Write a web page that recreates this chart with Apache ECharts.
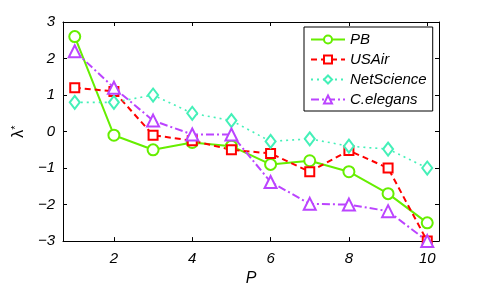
<!DOCTYPE html>
<html><head><meta charset="utf-8">
<script src="https://cdn.jsdelivr.net/npm/echarts@6/dist/echarts.min.js"></script>
<style>html,body{margin:0;padding:0;background:#fff}#c{width:485px;height:292px}</style>
</head><body><div id="c"></div>
<script>
var P = [1,2,3,4,5,6,7,8,9,10];
var PB = [2.6,-0.1,-0.5,-0.3,-0.4,-0.9,-0.8,-1.1,-1.7,-2.5];
var USAir = [1.2,1.1,-0.1,-0.25,-0.5,-0.6,-1.1,-0.52,-1.0,-3.0];
var NetScience = [0.8,0.8,1.0,0.5,0.3,-0.27,-0.2,-0.4,-0.48,-1.0];
var Celegans = [2.2,1.2,0.3,-0.08,-0.08,-1.38,-1.98,-2.0,-2.18,-3.0];
var xTicks = [2,4,6,8,10];
var yTicks = [-3,-2,-1,0,1,2,3];

function pairs(v){return P.map(function(x,i){return [x,v[i]];});}
var font = 'Liberation Sans';
var fmt = function(v){return String(v).replace('-', '\u2212');};
var chart = echarts.init(document.getElementById('c'), null, {renderer:'canvas'});
function mk(name, data, color, ltype, sym, size, lw){
  return {name:name, type:'line', data:pairs(data), symbol:sym, symbolSize:size,
    showAllSymbol:true, lineStyle:{color:color, width:lw, type:ltype},
    itemStyle:{color:'#fff', borderColor:color, borderWidth:2}, color:color,
    emphasis:{disabled:true}, animation:false, z:3};
}
var axisBase = {
  axisLine:{onZero:false, lineStyle:{color:'#000', width:1}},
  splitLine:{show:false}
};
chart.setOption({
  animation:false,
  grid:{left:63, right:46, top:22, bottom:39, containLabel:false},
  xAxis:[
    Object.assign({type:'value', min:0.7, max:10.3, position:'bottom',
      name:'P', nameLocation:'middle', nameGap:29,
      nameTextStyle:{fontStyle:'italic', fontSize:16, color:'#000', fontFamily:font},
      axisTick:{inside:true, length:4, customValues:xTicks, lineStyle:{color:'#000'}},
      axisLabel:{customValues:xTicks, fontStyle:'italic', fontSize:15, color:'#000', fontFamily:font, margin:10, formatter:fmt}
    }, axisBase),
    Object.assign({type:'value', min:0.7, max:10.3, position:'top',
      axisTick:{inside:true, length:4, customValues:xTicks, lineStyle:{color:'#000'}},
      axisLabel:{show:false}
    }, axisBase)
  ],
  yAxis:[
    Object.assign({type:'value', min:-3, max:3, interval:1, position:'left',
      name:'{a|\u03bb}{b|*}', nameLocation:'middle', nameGap:36, nameRotate:90,
      nameTextStyle:{color:'#000', rich:{a:{fontSize:16, fontFamily:font, color:'#000'}, b:{fontSize:11, fontFamily:font, color:'#000', verticalAlign:'top', padding:[0,0,6,0]}}},
      axisTick:{show:true, inside:true, length:4, lineStyle:{color:'#000'}},
      axisLabel:{fontStyle:'italic', fontSize:15, color:'#000', fontFamily:font, margin:8, formatter:fmt}
    }, axisBase),
    Object.assign({type:'value', min:-3, max:3, interval:1, position:'right',
      axisTick:{show:true, inside:true, length:4, lineStyle:{color:'#000'}},
      axisLabel:{show:false}
    }, axisBase)
  ],
  legend:{left:304, top:27, width:129, orient:'vertical', itemGap:5,
    itemWidth:34, itemHeight:10, padding:[5,6,4,6],
    backgroundColor:'#fff', borderColor:'#000', borderWidth:1,
    textStyle:{fontStyle:'italic', fontSize:15, color:'#000', fontFamily:font, padding:[0,0,0,0]},
    data:['PB','USAir','NetScience','C.elegans']},
  series:[
    mk('PB', PB, '#66ee00', 'solid', 'circle', 11, 2),
    mk('USAir', USAir, '#ff0000', [6,4], 'rect', 9, 2),
    mk('NetScience', NetScience, '#44f0b8', [2,4], 'diamond', [10,13], 1.6),
    mk('C.elegans', Celegans, '#bb44ff', [8,3,2,3], 'triangle', 12, 2)
  ]
});
</script></body></html>
